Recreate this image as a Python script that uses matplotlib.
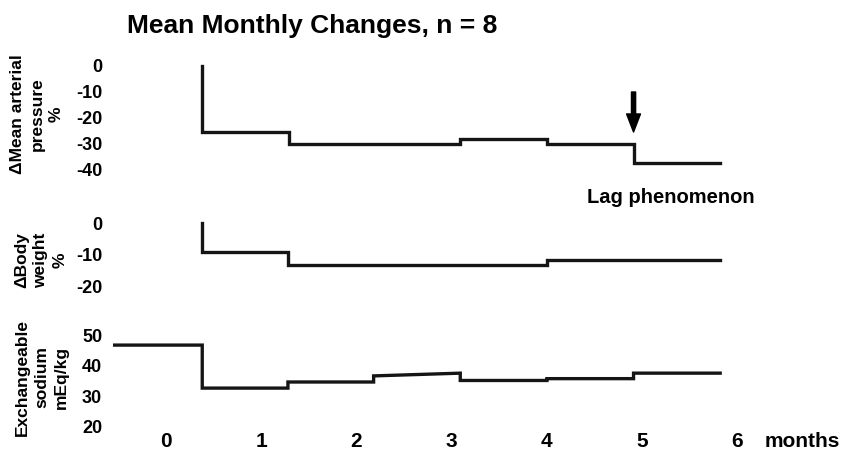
import matplotlib
matplotlib.use("Agg")
import matplotlib.pyplot as plt

plt.rcParams['font.family'] = ['Liberation Sans', 'DejaVu Sans']
plt.rcParams['font.weight'] = 'bold'

# x axis (months)
month_ticks = [0, 1, 2, 3, 4, 5, 6]
month_labels = ['0', '1', '2', '3', '4', '5', '6']

# delta mean arterial pressure, % (polyline vertices)
map_t = [0.38, 0.38, 1.29, 1.29, 3.09, 3.09, 4.0, 4.0, 4.91, 4.91, 5.82]
map_v = [0, -25.5, -25.5, -30, -30, -28, -28, -30, -30, -37.3, -37.3]
map_ticks = [0, -10, -20, -30, -40]

# delta body weight, %
bw_t = [0.38, 0.38, 1.28, 1.28, 4.0, 4.0, 5.82]
bw_v = [0, -9.2, -9.2, -13.3, -13.3, -11.8, -11.8]
bw_ticks = [0, -10, -20]

# exchangeable sodium, mEq/kg
na_t = [-0.54, 0.38, 0.38, 1.28, 1.28, 2.18, 2.18, 3.09, 3.09, 4.0, 4.0, 4.91, 4.91, 5.82]
na_v = [46.7, 46.7, 32.6, 32.6, 34.6, 34.6, 36.6, 37.5, 35.1, 35.1, 35.7, 35.7, 37.5, 37.5]
na_ticks = [20, 30, 40, 50]

# lag phenomenon arrow
lag_x = 4.91
lag_from, lag_to = -10, -25.4

LINE = '#151515'

fig = plt.figure(figsize=(8.51, 4.55), dpi=100)

xlim = (-0.609, 7.185)
ax1 = fig.add_axes([0.127, 0.6044, 0.872, 0.2857])
ax2 = fig.add_axes([0.127, 0.3516, 0.872, 0.1978])
ax3 = fig.add_axes([0.127, 0.0505, 0.872, 0.2505])

panels = [
    (ax1, map_t, map_v, map_ticks, (-43.85, 6.15)),
    (ax2, bw_t, bw_v, bw_ticks, (-22.86, 5.71)),
    (ax3, na_t, na_v, na_ticks, (18.2, 55.57)),
]
for ax, t, v, ticks, ylim in panels:
    ax.plot(t, v, color=LINE, lw=2.4, solid_joinstyle='miter')
    ax.set_xlim(*xlim)
    ax.set_ylim(*ylim)
    ax.set_yticks(ticks)
    ax.set_yticklabels([str(k) for k in ticks], fontsize=13, fontweight='bold')
    ax.tick_params(axis='y', length=0, pad=4.3)
    for s in ax.spines.values():
        s.set_visible(False)
    ax.patch.set_alpha(0)

ax1.set_xticks([])
ax2.set_xticks([])
ax3.set_xticks(month_ticks)
ax3.set_xticklabels(month_labels, fontsize=15, fontweight='bold')
ax3.tick_params(axis='x', length=0, pad=0)
ax3.annotate('months', xy=(6.29, 0), xycoords=('data', 'axes fraction'),
             xytext=(0, 0), textcoords='offset points',
             ha='left', va='top', fontsize=15, fontweight='bold')

# arrow + annotation
ax1.annotate('', xy=(lag_x, lag_to), xytext=(lag_x, lag_from),
             arrowprops=dict(facecolor='black', edgecolor='black', width=3.0,
                             headwidth=10, headlength=13, shrink=0))
ax1.text(5.30, -52.6, 'Lag phenomenon', ha='center', va='baseline',
         fontsize=14.5, fontweight='bold', clip_on=False)

# title and y labels
fig.text(127 / 851, 1 - 33 / 455, 'Mean Monthly Changes, n = 8',
         ha='left', va='baseline', fontsize=19, fontweight='bold')

ylab = dict(rotation=90, ha='center', va='center', multialignment='center',
            fontsize=12.5, fontweight='bold', linespacing=1.35)
fig.text(37 / 851, 1 - 114 / 455, '\u0394Mean arterial\npressure\n%', **ylab)
fig.text(41 / 851, 1 - 260 / 455, '\u0394Body\nweight\n%', **ylab)
fig.text(42 / 851, 1 - 377 / 455, 'Exchangeable\nsodium\nmEq/kg', **ylab)

fig.savefig('out.png', dpi=100)
